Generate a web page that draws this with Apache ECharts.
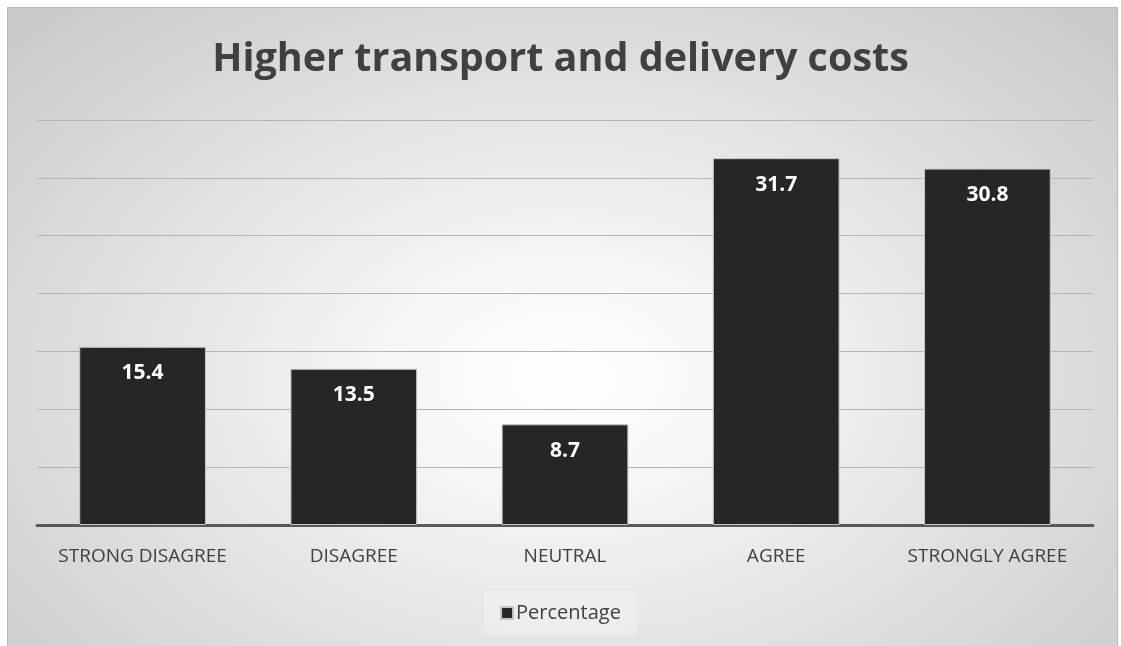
<!DOCTYPE html>
<html>
<head>
<meta charset="utf-8">
<script src="https://cdn.jsdelivr.net/npm/echarts@6/dist/echarts.min.js"></script>
<style>
  html, body { margin: 0; padding: 0; background: #ffffff; }
  #frame {
    position: absolute; left: 7px; top: 7px; width: 1111px; height: 639px;
    box-sizing: border-box;
    border-top: 1px solid #b8b8b8; border-left: 1px solid #b8b8b8; border-right: 1px solid #b8b8b8;
    background: radial-gradient(ellipse farthest-corner at 50% 58%, #ffffff 0%, #f6f6f6 22%, #e2e2e2 55%, #c8c8c8 100%);
  }
  #chart { position: absolute; left: 0; top: 0; width: 1121px; height: 646px; }
</style>
</head>
<body>
<div id="frame"></div>
<div id="chart"></div>
<script>
// Survey responses for "Higher transport and delivery costs"
const categories = ['STRONG DISAGREE', 'DISAGREE', 'NEUTRAL', 'AGREE', 'STRONGLY AGREE'];
const percentage = [15.4, 13.5, 8.7, 31.7, 30.8];
const seriesName = 'Percentage';
const titleText = 'Higher transport and delivery costs';

const FONT = '"Open Sans", "DejaVu Sans", sans-serif';

const chart = echarts.init(document.getElementById('chart'), null, { renderer: 'canvas' });
chart.setOption({
  backgroundColor: 'transparent',
  animation: false,
  title: {
    text: titleText,
    left: 'center',
    top: 35,
    textStyle: { fontFamily: FONT, fontWeight: 'bold', fontSize: 39.5, color: '#404040' }
  },
  legend: {
    data: [seriesName],
    bottom: 11,
    left: 'center',
    icon: 'rect',
    itemWidth: 12,
    itemHeight: 12,
    itemGap: 4,
    padding: [12, 16, 12, 16],
    backgroundColor: 'rgba(255,255,255,0.25)',
    textStyle: { fontFamily: FONT, fontSize: 20, color: '#404040', padding: [0, 0, 0, -2] }
  },
  grid: { left: 37, right: 28, top: 120, bottom: 121, containLabel: false },
  xAxis: {
    type: 'category',
    data: categories,
    axisTick: { show: false },
    axisLine: { lineStyle: { color: '#595959', width: 3 } },
    axisLabel: { interval: 0, hideOverlap: false, fontFamily: FONT, fontSize: 19, color: '#404040', margin: 22 }
  },
  yAxis: {
    type: 'value',
    min: 0, max: 35, interval: 5,
    axisLabel: { show: false },
    axisLine: { show: false },
    axisTick: { show: false },
    splitLine: { lineStyle: { color: '#b4b4b4', width: 1 } }
  },
  series: [{
    name: seriesName,
    type: 'bar',
    data: percentage,
    barWidth: '60%',
    itemStyle: { color: '#262626', borderColor: '#c4c4c4', borderWidth: 1 },
    label: {
      show: true,
      position: 'insideTop',
      distance: 16,
      fontFamily: FONT,
      fontWeight: 'bold',
      fontSize: 21,
      color: '#ffffff'
    }
  }]
});
</script>
</body>
</html>
